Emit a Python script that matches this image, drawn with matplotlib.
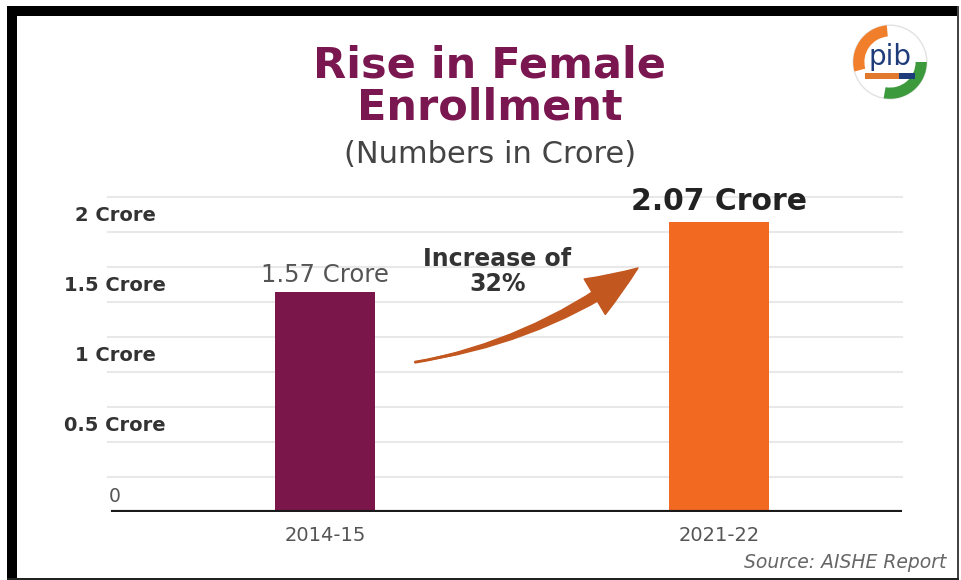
import matplotlib
matplotlib.use("Agg")
import matplotlib.pyplot as plt
from matplotlib.patches import FancyArrowPatch, Rectangle, Circle, Wedge

# ---- data ----
categories = ["2014-15", "2021-22"]
values = [1.57, 2.07]
value_labels = ["1.57 Crore", "2.07 Crore"]
ytick_values = [0, 0.5, 1, 1.5, 2]
ytick_labels = ["0", "0.5 Crore", "1 Crore", "1.5 Crore", "2 Crore"]
grid_values = [0.25, 0.5, 0.75, 1.0, 1.25, 1.5, 1.75, 2.0, 2.25]
bar_colors = ["#7B164B", "#F26A22"]
title = "Rise in Female\nEnrollment"
subtitle = "(Numbers in Crore)"
increase_text = "Increase of\n32%"
source_text = "Source: AISHE Report"
arrow_start = (0.228, 1.07)
arrow_end = (0.794, 1.743)

plt.rcParams["font.family"] = ["DejaVu Sans"]

W, H = 962, 580
fig = plt.figure(figsize=(W / 100, H / 100), dpi=100)
fig.patch.set_facecolor("white")

def fx(px):
    return px / W

def fy(py):
    return 1 - py / H

# frame
fig.add_artist(Rectangle((fx(7), fy(16)), fx(959 - 7), 10 / H, transform=fig.transFigure,
                         facecolor="black", edgecolor="none"))
fig.add_artist(Rectangle((fx(7), fy(579)), 10 / W, (579 - 6) / H, transform=fig.transFigure,
                         facecolor="black", edgecolor="none"))
fig.add_artist(Rectangle((fx(957), fy(580)), 2 / W, (580 - 6) / H, transform=fig.transFigure,
                         facecolor="#444444", edgecolor="none"))
fig.add_artist(Rectangle((fx(7), fy(580)), (959 - 7) / W, 2 / H, transform=fig.transFigure,
                         facecolor="#222222", edgecolor="none"))

# axes
left, right, base, top = 108, 902, 512, 197
ax = fig.add_axes([fx(left), fy(base), (right - left) / W, (base - top) / H])
ax.set_xlim(-0.551, 1.464)
ax.set_ylim(0, 2.25)
for s in ax.spines.values():
    s.set_visible(False)
ax.set_xticks([])
ax.set_yticks([])
ax.set_facecolor("none")

for g in grid_values:
    ax.axhline(g, color="#e8e8e8", lw=1.5, zorder=0, clip_on=False)

x = list(range(len(categories)))
ax.bar(x, values, width=0.254, color=bar_colors, zorder=2)
ax.axhline(0, xmin=(113 - left) / (right - left), xmax=1, color="#1a1a1a", lw=3, zorder=3)

# y labels (centered, between gridlines)
ytr = ax.get_yaxis_transform()
for v, lab in zip(ytick_values, ytick_labels):
    if v == 0:
        ax.text(0.0088, v + 0.11, lab, transform=ytr, ha="center", va="center",
                fontsize=13.5, color="#555555")
    else:
        ax.text(0.0088, v + 0.12, lab, transform=ytr, ha="center", va="center",
                fontsize=14, fontweight="bold", color="#333333")

# category labels
for xi, c in zip(x, categories):
    ax.text(xi, -0.165, c, ha="center", va="center", fontsize=14, color="#555555")

# value labels
ax.text(x[0], values[0] + 0.12, value_labels[0], ha="center", va="center",
        fontsize=17.5, color="#555555")
ax.text(x[1], values[1] + 0.145, value_labels[1], ha="center", va="center",
        fontsize=21.5, fontweight="bold", color="#222222")

# increase annotation
ax.text(0.437, 1.715, increase_text, ha="center", va="center", fontsize=17,
        fontweight="bold", color="#333333", linespacing=1.05)

arrow_color = "#C2571F"
# tapered body: wedge drawn from tip back to the start (wide at tip, thin at start)
body = FancyArrowPatch(arrow_end, arrow_start,
                       connectionstyle="arc3,rad=-0.12",
                       arrowstyle="wedge,tail_width=0.45,shrink_factor=0.5",
                       mutation_scale=20, color=arrow_color, zorder=4,
                       shrinkA=12, shrinkB=0)
ax.add_patch(body)
head = FancyArrowPatch(arrow_start, arrow_end,
                       connectionstyle="arc3,rad=0.12",
                       arrowstyle="simple,head_length=1.7,head_width=1.35,tail_width=0.05",
                       mutation_scale=22, color=arrow_color, zorder=4,
                       shrinkA=0, shrinkB=0)
ax.add_patch(head)

# titles
fig.text(fx(490), fy(86), title, ha="center", va="center", fontsize=31,
         fontweight="bold", color="#7A1650", linespacing=1.0)
fig.text(fx(490), fy(155), subtitle, ha="center", va="center", fontsize=22,
         color="#444444")
fig.text(fx(946), fy(563), source_text, ha="right", va="center", fontsize=13.5,
         style="italic", color="#666666")

# logo (approximation)
lax = fig.add_axes([fx(850), fy(102), 80 / W, 80 / H])
lax.set_xlim(-1, 1)
lax.set_ylim(-1, 1)
lax.set_aspect("equal")
lax.axis("off")
lax.add_patch(Circle((0, 0), 0.92, facecolor="white", edgecolor="#e2e2e2", lw=1))
lax.add_patch(Wedge((0, 0), 0.92, 95, 195, width=0.28, facecolor="#F07E2A", edgecolor="none"))
lax.add_patch(Wedge((0, 0), 0.92, -100, 0, width=0.28, facecolor="#3C9A3C", edgecolor="none"))
lax.text(0, 0.12, "pib", ha="center", va="center", fontsize=20, color="#1F3C7A")
lax.add_patch(Rectangle((-0.62, -0.42), 1.24, 0.15, facecolor="#1F3C7A", edgecolor="none"))
lax.add_patch(Rectangle((-0.62, -0.42), 0.85, 0.15, facecolor="#E0782D", edgecolor="none"))

fig.savefig("out.png", dpi=100, facecolor="white")
